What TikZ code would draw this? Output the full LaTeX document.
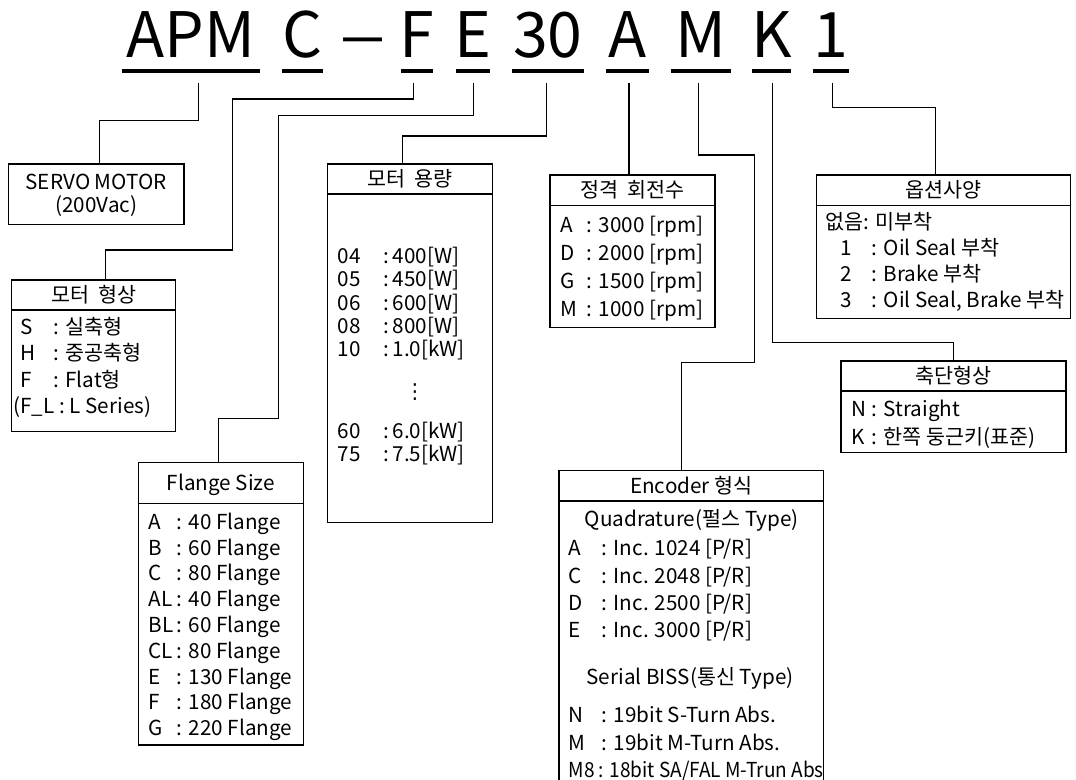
\documentclass[tikz,border=0pt]{standalone}
\usepackage{fontspec}
\setmainfont{Noto Sans CJK KR}
\newfontfamily\symfont{DejaVu Sans}
\usepackage{graphicx}
\usepackage{tikz}
\usetikzlibrary{calc, fit, positioning}

\begin{document}
\begin{tikzpicture}[x=0.75pt, y=-0.75pt,
    box/.style={draw, line width=1pt, inner sep=0pt},
    wire/.style={line width=0.9pt},
    uline/.style={line width=2.8pt},
    big/.style={font=\fontsize{47}{47}\selectfont, inner sep=0pt, anchor=base},
    txt/.style={font=\fontsize{15.5}{15.5}\selectfont, inner sep=0pt, anchor=west, text height=11.3pt, text depth=0pt},
    hd/.style={font=\fontsize{15.5}{15.5}\selectfont, inner sep=0pt, text height=11.3pt, text depth=0pt}]

    % Khung hình
    \useasboundingbox (0,0) rectangle (1076,780);

    % Mã sản phẩm
    \node[big] (tAPM) at (190.8,57.3) {APM};
    \node[big] (tC) at (302.5,57.3) {C};
    \node[big] (tDash) at (362.7,57.3) {\scalebox{1.4}[1]{–}};
    \node[big] (tF) at (417.2,57.3) {F};
    \node[big] (tE) at (473,57.3) {E};
    \node[big] (t30) at (547.8,57.3) {30};
    \node[big] (tA) at (627.5,57.3) {A};
    \node[big] (tM) at (701,57.3) {M};
    \node[big] (tK) at (771.5,57.3) {K};
    \node[big] (t1) at (831.2,57.3) {1};
    \foreach \a/\b in {121.7/260, 282.3/322.7, 401/433.3, 456/490, 511.7/584, 606/649, 671/731, 752.3/790.7, 813.3/849}
        \draw[uline] (\a,70.8) -- (\b,70.8); % gạch dưới

    % Điểm đầu các đường nối
    \coordinate (cAPM) at (198.3,83);
    \coordinate (cF) at (413.3,83);
    \coordinate (cE) at (473.3,83);
    \coordinate (c30) at (546.7,83);
    \coordinate (cA) at (629,83);
    \coordinate (cM) at (698.3,83);
    \coordinate (cK) at (772.5,83);
    \coordinate (c1) at (832.3,83);

    % Các hộp
    \node[box, fit={(8.3,164) (184,224.3)}] (servo) {};
    \node[box, fit={(11.7,280) (175.7,431.7)}] (shape) {};
    \node[box, fit={(138.3,462.7) (303.3,745)}] (flange) {};
    \node[box, fit={(327.3,164) (492.7,522.3)}] (cap) {};
    \node[box, fit={(550,175) (715,327.3)}] (rpm) {};
    \node[box, fit={(816.7,175) (1070.7,318.3)}] (opt) {};
    \node[box, fit={(841,361) (1066,452.3)}] (shaft) {};
    \node[inner sep=0pt, fit={(559.3,470.7) (823.3,780)}] (enc) {};
    \draw[box] (enc.south west) -- (enc.north west) -- (enc.north east) -- (enc.south east); % hộp encoder

    % Đường kẻ tiêu đề
    \draw[box] (11.7,310) -- (175.7,310);
    \draw[box] (138.3,503.3) -- (303.3,503.3);
    \draw[box] (327.3,194) -- (492.7,194);
    \draw[box] (550,205.7) -- (715,205.7);
    \draw[box] (816.7,205.7) -- (1070.7,205.7);
    \draw[box] (841,391) -- (1066,391);
    \draw[box] (559.3,501) -- (823.3,501);

    % Tiêu đề
    \node[hd] (servoT) at (96.2,181.7) {SERVO\ MOTOR};
    \node[hd] (servoV) at (96.2,205) {(200Vac)};
    \node[hd] (shapeH) at (93.7,295) {모터 \ 형상};
    \node[hd] (flangeH) at (220.8,483.3) {Flange Size};
    \node[hd] (capH) at (410,179) {모터 \ 용량};
    \node[hd] (rpmH) at (632.5,190.3) {정격 \ 회전수};
    \node[hd] (optH) at (943.7,190.3) {옵션사양};
    \node[hd] (shaftH) at (953.5,376) {축단형상};
    \node[hd] (encH) at (691.3,486) {Encoder 형식};
    \node[hd] (quadH) at (691.7,519.3) {Quadrature(펄스 Type)};
    \node[hd] (bissH) at (690,676.7) {Serial BISS(통신 Type)};

    % Nội dung
    \foreach \k/\v [count=\i] in {S/실축형, H/중공축형, F/Flat형}
        \node[txt] (sh\i) at (20,{326.7+26.65*(\i-1)}) {\makebox[25pt][l]{\k}: \v};
    \node[txt] (sh4) at (13.3,406) {(F\_L : L Series)};
    \foreach \k/\v [count=\i] in {A/40, B/60, C/80, AL/40, BL/60, CL/80, E/130, F/180, G/220}
        \node[txt] (fl\i) at (148.3,{521.7+25.8*(\i-1)}) {\makebox[21.3pt][l]{\k}: \v{} Flange};
    \foreach \k/\v/\y [count=\i] in {04/400[W]/255.7, 05/450[W]/279, 06/600[W]/302.5, 08/800[W]/325.8, 10/1.0[kW]/349, 60/6.0[kW]/430.8, 75/7.5[kW]/454.2}
        \node[txt] (cp\i) at (337.3,\y) {\makebox[34.5pt][l]{\k}:\,\v};
    \node[inner sep=0pt, font=\symfont\fontsize{15.5}{15.5}\selectfont] (cpDots) at (415,392) {⋮};
    \foreach \k/\v [count=\i] in {A/3000, D/2000, G/1500, M/1000}
        \node[txt] (rp\i) at (560,{225+28.1*(\i-1)}) {\makebox[20pt][l]{\k}: \v{} [rpm]};
    \node[txt] (op0) at (825,221.7) {없음: 미부착};
    \foreach \k/\v [count=\i] in {1/Oil Seal 부착, 2/Brake 부착, 3/{Oil Seal, Brake 부착}}
        \node[txt] (op\i) at (840,{221.7+26.1*\i}) {\makebox[23.8pt][l]{\k}: \v};
    \node[txt] (sf1) at (851.7,409.3) {\makebox[15pt][l]{N}: Straight};
    \node[txt] (sf2) at (851.7,436.7) {\makebox[15pt][l]{K}: 한쪽 둥근키(표준)};
    \foreach \k/\v [count=\i] in {A/1024, C/2048, D/2500, E/3000}
        \node[txt] (en\i) at (568.3,{548.3+27.2*(\i-1)}) {\makebox[25pt][l]{\k}: Inc. \v{} [P/R]};
    \foreach \k/\v [count=\i] in {N/19bit S-Turn Abs., M/19bit M-Turn Abs.}
        \node[txt] (bs\i) at (568.3,{715+27.5*(\i-1)}) {\makebox[25pt][l]{\k}: \v};
    \node[txt] (bs3) at (568.3,770) {\scalebox{0.92}[1]{M8 : 18bit SA/FAL M-Trun Abs}};

    % Đường nối
    \draw[wire] (cAPM) |- (99.3,120.7) -- (99.3,0 |- servo.north);
    \draw[wire] (cF) |- (232.5,99) |- (105.3,250) -- (105.3,0 |- shape.north);
    \draw[wire] (cE) |- (278.3,115.7) |- (218.3,418.3) -- (218.3,0 |- flange.north);
    \draw[wire] (c30) |- (402.7,136) -- (402.7,0 |- cap.north);
    \draw[wire] (cA) -- (cA |- rpm.north);
    \draw[wire] (cM) |- (754.3,155) |- (681.7,362.3) -- (681.7,0 |- enc.north);
    \draw[wire] (cK) |- (953.3,342.7) -- (953.3,0 |- shaft.north);
    \draw[wire] (c1) |- (935.7,107.3) -- (935.7,0 |- opt.north);

\end{tikzpicture}
\end{document}
